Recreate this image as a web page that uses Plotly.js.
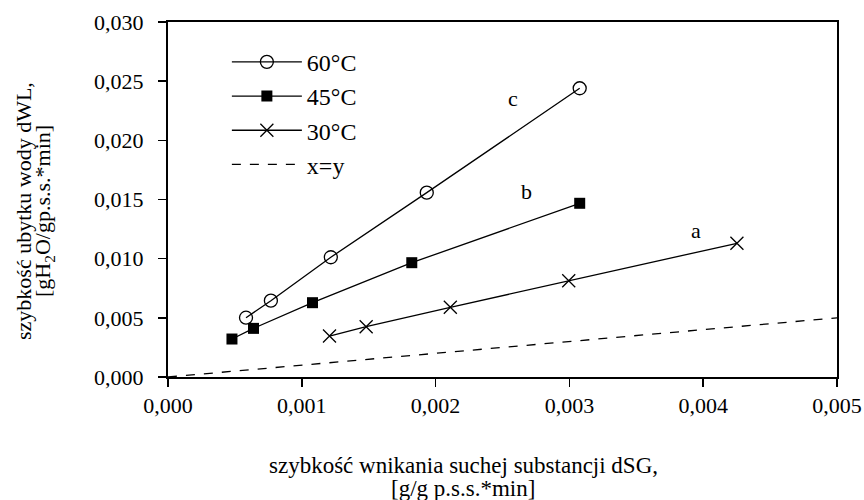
<!DOCTYPE html>
<html>
<head>
<meta charset="utf-8">
<script src="https://cdn.plot.ly/plotly-3.0.1.min.js"></script>
<style>html,body{margin:0;padding:0;background:#fff}#chart{width:864px;height:500px}</style>
</head>
<body>
<div id="chart"></div>
<script>
// Data
const seriesNames = ['60°C', '45°C', '30°C', 'x=y'];
const x60 = [0.000583, 0.000769, 0.001217, 0.001934, 0.003077];
const y60 = [0.00501, 0.00645, 0.01012, 0.01558, 0.02440];
const x45 = [0.000478, 0.000639, 0.001080, 0.001822, 0.003077];
const y45 = [0.00321, 0.00411, 0.00628, 0.00966, 0.01468];
const x30 = [0.001207, 0.001481, 0.002110, 0.002995, 0.004252];
const y30 = [0.00346, 0.00425, 0.00589, 0.00814, 0.01130];
const xLine = [0, 0.005];
const yLine = [0, 0.005];
const curveLabels = ['c', 'b', 'a'];
const labelX = [0.002582, 0.002678, 0.003948];
const labelY = [0.02350, 0.01566, 0.01242];
const xTitleLines = ['szybkość wnikania suchej substancji dSG,', '[g/g p.s.s.*min]'];
const yTitleLines = ['szybkość ubytku wody dWL,', '[gH<sub>2</sub>O/gp.s.s.*min]'];

const FONT = '"Liberation Serif", "Times New Roman", "DejaVu Serif", serif';
const L = 168, R = 837, T = 22, B = 377;
const px = v => (v - L) / (R - L);
const py = v => (B - v) / (B - T);

const traces = [
  {x: x60, y: y60, name: seriesNames[0], legendgroup: 'g1', mode: 'lines+markers',
   line: {color: '#000', width: 1.3},
   marker: {symbol: 'circle-open', size: 13, color: '#000', line: {width: 1.3, color: '#000'}}},
  {x: x45, y: y45, name: seriesNames[1], legendgroup: 'g2', mode: 'lines+markers',
   line: {color: '#000', width: 1.3},
   marker: {symbol: 'square', size: 11, color: '#000'}},
  {x: x30, y: y30, name: seriesNames[2], legendgroup: 'g3', mode: 'lines+markers',
   line: {color: '#000', width: 1.3},
   marker: {symbol: 'x-thin-open', size: 13, color: '#000', line: {width: 1.3, color: '#000'}}},
  {x: xLine, y: yLine, name: seriesNames[3], legendgroup: 'g4', mode: 'lines',
   line: {color: '#000', width: 1.3, dash: 'dash'}}
];

const annotations = curveLabels.map((t, i) => ({
  x: labelX[i], y: labelY[i], xref: 'x', yref: 'y', text: t, showarrow: false,
  font: {family: FONT, size: 22, color: '#000'}
}));
const xTitleY = [465, 488];
xTitleLines.forEach((t, i) => annotations.push({
  x: px(463), y: py(xTitleY[i]), xref: 'paper', yref: 'paper', text: t, showarrow: false,
  xanchor: 'center', yanchor: 'middle', font: {family: FONT, size: 23, color: '#000'}
}));
const yTitleX = [24, 44];
yTitleLines.forEach((t, i) => annotations.push({
  x: px(yTitleX[i]), y: py(211), xref: 'paper', yref: 'paper', text: t, showarrow: false,
  textangle: -90, xanchor: 'center', yanchor: 'middle', font: {family: FONT, size: 22, color: '#000'}
}));

const layout = {
  width: 864, height: 500,
  margin: {l: L, r: 864 - R, t: T, b: 500 - B},
  paper_bgcolor: '#fff', plot_bgcolor: '#fff',
  separators: ', ',
  font: {family: FONT, color: '#000', size: 22},
  showlegend: true,
  legend: {x: 0.088, y: 0.95, xanchor: 'left', yanchor: 'top',
           bgcolor: 'rgba(0,0,0,0)', font: {family: FONT, size: 24, color: '#000'},
           tracegroupgap: 0, itemwidth: 70},
  xaxis: {range: [0, 0.005], dtick: 0.001, tick0: 0, tickformat: '.3f',
          showgrid: false, zeroline: false, showline: true, linecolor: '#000', linewidth: 2,
          mirror: true, ticks: 'outside', ticklen: 8, tickwidth: 1.5, tickcolor: '#000',
          tickfont: {family: FONT, size: 22, color: '#000'}},
  yaxis: {range: [0, 0.030], dtick: 0.005, tick0: 0, tickformat: '.3f',
          showgrid: false, zeroline: false, showline: true, linecolor: '#000', linewidth: 2,
          mirror: true, ticks: 'outside', ticklen: 8, tickwidth: 1.5, tickcolor: '#000',
          ticklabelstandoff: 10,
          tickfont: {family: FONT, size: 22, color: '#000'}},
  annotations: annotations
};

Plotly.newPlot('chart', traces, layout, {displayModeBar: false, staticPlot: true});
</script>
</body>
</html>
